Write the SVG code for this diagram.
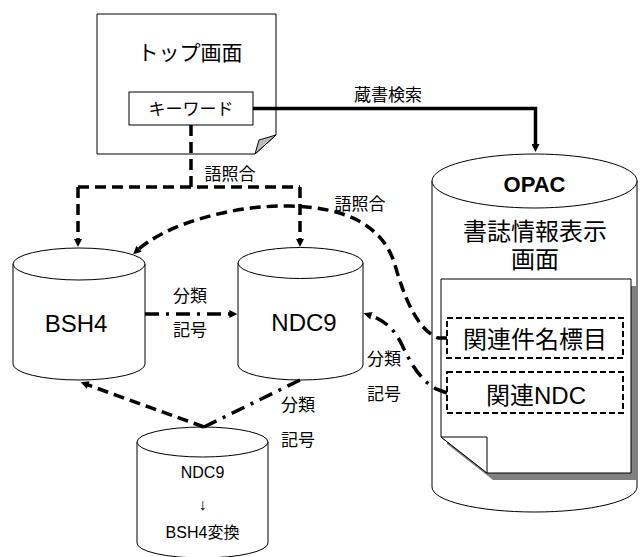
<svg xmlns="http://www.w3.org/2000/svg" width="641" height="557" viewBox="0 0 641 557">
<style>
text{font-family:"Liberation Sans","Noto Sans CJK JP",sans-serif;fill:#000;text-anchor:middle}
.shape{fill:#fff;stroke:#000;stroke-width:1}
.lbl{font-size:17px}
.dash{fill:none;stroke:#000;stroke-width:3.5;stroke-dasharray:11,6}
.dd{fill:none;stroke:#000;stroke-width:3.5;stroke-dasharray:14,7,3,7}
.solid{fill:none;stroke:#000;stroke-width:3.5}
.box{fill:none;stroke:#000;stroke-width:2;stroke-dasharray:6,3}
</style>
<defs>
<marker id="ah" viewBox="0 0 10 10" refX="3" refY="5" markerWidth="9" markerHeight="8" markerUnits="userSpaceOnUse" orient="auto">
<path d="M0,0 L10,5 L0,10 Z" fill="#000"/>
</marker>
</defs>

<g id="top-page">
<path class="shape" d="M97,14 H276 V135 L255,154 H97 Z"/>
<path d="M276,135 L259,140 L255,154 Z" fill="#bdbdbd" stroke="#000" stroke-width="1"/>
<text x="190" y="60" font-size="21">トップ画面</text>
</g>
<g id="keyword">
<rect class="shape" x="129" y="92" width="124" height="33"/>
<text x="191" y="115" font-size="17">キーワード</text>
</g>

<g id="opac">
<path class="shape" d="M432,181 V487 A102.5,25 0 0 0 637,487 V181"/>
<ellipse class="shape" cx="534.5" cy="181" rx="102.5" ry="27"/>
<text x="534.5" y="192" font-size="22" font-weight="bold">OPAC</text>
<text x="535" y="240" font-size="24">書誌情報表示</text>
<text x="535" y="268" font-size="24">画面</text>
<path d="M447,286 H637 V480 H493 L447,444 Z" fill="#808080"/>
<path class="shape" d="M441,279 H631 V473 H487 L441,437 Z"/>
<path class="shape" d="M441,437 H487 V473 Z"/>
</g>
<g id="subject-heading">
<rect class="box" x="447" y="318" width="176" height="40"/>
<text x="535" y="348" font-size="24">関連件名標目</text>
</g>
<g id="related-ndc">
<rect class="box" x="447" y="372" width="176" height="41"/>
<text x="536" y="404" font-size="24">関連NDC</text>
</g>

<g id="bsh4">
<path class="shape" d="M13,264 V364 A66,16 0 0 0 145,364 V264"/>
<ellipse class="shape" cx="79" cy="264" rx="66" ry="16"/>
<text x="76" y="332" font-size="24">BSH4</text>
</g>
<g id="ndc9">
<path class="shape" d="M238,263 V365 A62.5,15 0 0 0 363,365 V263"/>
<ellipse class="shape" cx="300.5" cy="263" rx="62.5" ry="15.5"/>
<text x="304" y="331" font-size="24">NDC9</text>
</g>
<g id="convert">
<path class="shape" d="M137,442 V543 A65.5,15 0 0 0 268,543 V442"/>
<ellipse class="shape" cx="202.5" cy="442" rx="65.5" ry="15"/>
<text x="202.5" y="478" font-size="16">NDC9</text>
<text x="202.5" y="510" font-size="16">↓</text>
<text x="202.5" y="538" font-size="16">BSH4変換</text>
</g>

<g id="connectors">
<path class="solid" d="M253,108.5 H535.5 V146.5" marker-end="url(#ah)"/>
<text class="lbl" x="388" y="101">蔵書検索</text>

<path class="dash" d="M191,125 V187"/>
<path class="dash" d="M78,187 H300"/>
<path class="dash" d="M78,187 V241.5" marker-end="url(#ah)"/>
<path class="dash" d="M300,187 V241.5" marker-end="url(#ah)"/>
<text class="lbl" x="230" y="180">語照合</text>

<path class="dash" d="M447,338 L438,338 C418,330 405,300 395,265 C383,225 345,207 290,206 C230,205 165,225 137.3,250.4" marker-end="url(#ah)"/>
<text class="lbl" x="360" y="210">語照合</text>

<path class="dd" d="M145,314 H231.7" marker-end="url(#ah)"/>
<text class="lbl" x="190" y="302">分類</text>
<text class="lbl" x="190" y="336">記号</text>

<path class="dd" d="M447,393 L436,389 C420,380 410,362 402,345 C395,330 385,320 369,315" marker-end="url(#ah)"/>
<text class="lbl" x="384" y="365">分類</text>
<text class="lbl" x="384" y="400">記号</text>

<path class="dd" d="M300,380 L204,427"/>
<text class="lbl" x="298" y="411">分類</text>
<text class="lbl" x="298" y="446">記号</text>

<path class="dash" d="M204,427 L85.9,384.2" marker-end="url(#ah)"/>
</g>
</svg>
